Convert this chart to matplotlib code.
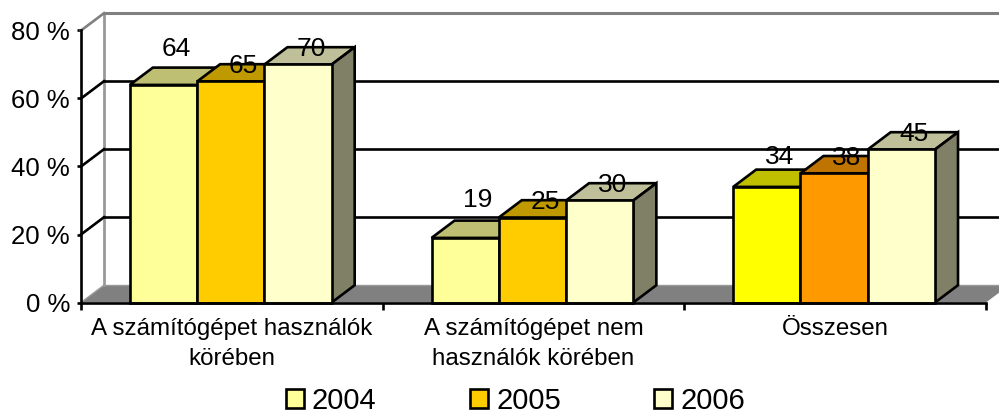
#!/usr/bin/env python3
import matplotlib
matplotlib.use("Agg")
import matplotlib.pyplot as plt
from matplotlib.patches import Polygon

plt.rcParams["font.family"] = ["Liberation Sans", "DejaVu Sans"]

categories = ["A számítógépet használók\nkörében", "A számítógépet nem\nhasználók körében", "Összesen"]
years = ["2004", "2005", "2006"]
v2004 = [64, 19, 34]
v2005 = [65, 25, 38]
v2006 = [70, 30, 45]
yticks = [0, 20, 40, 60, 80]

# last group uses stronger colours, like the original
front = [["#FFFF99", "#FFFF99", "#FFFF00"],
         ["#FFCC00", "#FFCC00", "#FF9900"],
         ["#FFFFCC", "#FFFFCC", "#FFFFCC"]]
top = [["#BFBF73", "#BFBF73", "#BFBF00"],
       ["#BF9900", "#BF9900", "#BF7300"],
       ["#BFBF99", "#BFBF99", "#BFBF99"]]
side = "#808066"
label_lift = [[19, 21, 13], [-2, -2, -2], [-2, -2, -2]]

W, H = 999, 412
X0, X1, Y0, Y80 = 81, 986, 302.5, 30.5
DX = 23 / (X1 - X0) * 3
DY = 17.3 / (Y0 - Y80) * 80
BAR = 0.223
START = 0.162
LW = 1.9

fig = plt.figure(figsize=(W / 100, H / 100), dpi=100)
ax = fig.add_axes([X0 / W, 1 - Y0 / H, (X1 - X0) / W, (Y0 - Y80) / H])
ax.set_xlim(0, 3)
ax.set_ylim(0, 80)
ax.patch.set_visible(False)

def poly(pts, **kw):
    ax.add_patch(Polygon(pts, closed=True, clip_on=False, **kw))

# floor and back wall
poly([(0, 0), (DX, DY), (3 + DX, DY), (3, 0)], facecolor="#808080", edgecolor="none", zorder=1)
ax.plot([DX, 3 + DX], [DY, DY], color="#999999", lw=1, zorder=1.5, clip_on=False)
ax.plot([DX, DX], [DY, 80 + DY], color="#999999", lw=2, zorder=1.5, clip_on=False)
ax.plot([DX, 3 + DX], [80 + DY, 80 + DY], color="#808080", lw=2.2, zorder=1.5, clip_on=False)

for v in yticks[1:-1]:
    ax.plot([DX, 3 + DX], [v + DY, v + DY], color="black", lw=LW, zorder=2, clip_on=False)
for v in yticks[1:]:
    color = "#808080" if v == 80 else "black"
    ax.plot([0, DX], [v, v + DY], color=color, lw=LW, zorder=2, clip_on=False)
ax.plot([0, DX], [0, DY], color="#999999", lw=1, zorder=2, clip_on=False)

# bars left to right, so that each one covers the depth of the previous one
for s, vals in enumerate([v2004, v2005, v2006]):
    xs = [i + START + s * BAR for i in range(len(categories))]
    z = 3 + s
    ax.bar(xs, vals, BAR, align="edge", color=front[s], edgecolor="black", linewidth=LW,
           label=years[s], zorder=z + 0.5, clip_on=False)
    for i, (x, v) in enumerate(zip(xs, vals)):
        poly([(x, v), (x + DX, v + DY), (x + BAR + DX, v + DY), (x + BAR, v)],
             facecolor=top[s][i], edgecolor="black", linewidth=LW, zorder=z)
        poly([(x + BAR, 0), (x + BAR + DX, DY), (x + BAR + DX, v + DY), (x + BAR, v)],
             facecolor=side, edgecolor="black", linewidth=LW, zorder=z)

# value labels on top of everything
for s, vals in enumerate([v2004, v2005, v2006]):
    for i, v in enumerate(vals):
        x = i + START + s * BAR + BAR / 2 + DX / 2
        ax.annotate(str(v), (x, v + DY), xytext=(1, label_lift[s][i] * 0.72), textcoords="offset points",
                    ha="center", va="center", fontsize=19, color="black", zorder=10,
                    annotation_clip=False)

for name in ["top", "right"]:
    ax.spines[name].set_visible(False)
for name in ["left", "bottom"]:
    ax.spines[name].set_linewidth(LW)
    ax.spines[name].set_zorder(9)

ax.set_yticks(yticks)
ax.set_yticklabels([f"{v} %" for v in yticks], fontsize=18.5)
ax.tick_params(axis="y", length=3, width=LW, pad=5)
ax.set_xticks(range(len(categories) + 1))
ax.set_xticklabels([])
ax.tick_params(axis="x", which="major", length=5, width=LW)
ax.set_xticks([i + 0.5 for i in range(len(categories))], minor=True)
ax.set_xticklabels(categories, minor=True, fontsize=17.4, linespacing=1.5)
ax.tick_params(axis="x", which="minor", length=0, pad=11)

handles, labels = ax.get_legend_handles_labels()
ax.legend(handles, labels, ncol=3, frameon=False, fontsize=21,
          loc="center", bbox_to_anchor=(515.5 / W, 1 - 401 / H), bbox_transform=fig.transFigure,
          handlelength=0.62, handleheight=0.62, handletextpad=0.28, columnspacing=3.2,
          borderpad=0, borderaxespad=0)

fig.savefig("out.png", dpi=100)
